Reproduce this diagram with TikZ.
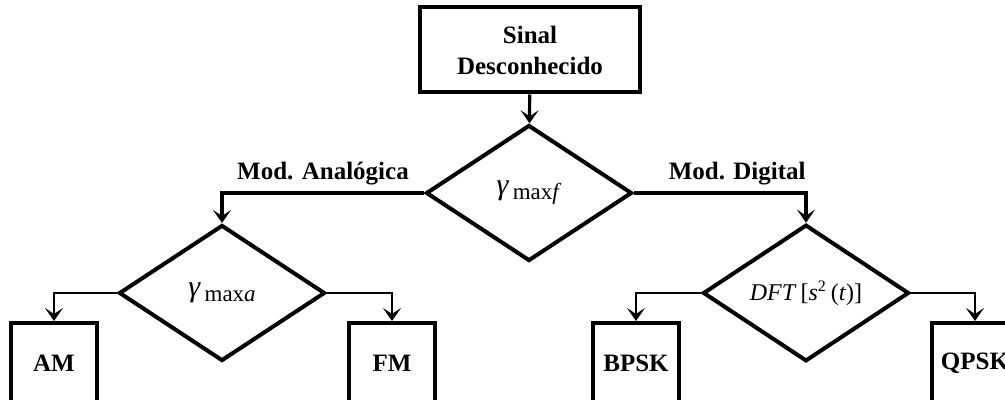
\documentclass[tikz,border=0pt]{standalone}
\usepackage{fontspec}
\setmainfont{Liberation Serif}
\usetikzlibrary{arrows.meta, positioning, shapes.geometric}

\begin{document}
\begin{tikzpicture}[
    x=0.5pt, y=-0.5pt,
    >={Stealth[length=6.5pt, width=9pt, inset=3pt]},
    block/.style={
        draw, line width=2pt, align=center, fill=white,
        font=\bfseries\fontsize{12.5}{15.5}\selectfont
    },
    leaf/.style={block, minimum width=43pt, minimum height=40pt},
    decision/.style={
        draw, diamond, line width=2pt, inner sep=0pt,
        minimum width=103pt, minimum height=68pt,
        font=\fontsize{12.5}{14}\selectfont
    },
    branch/.style={font=\bfseries\fontsize{12.5}{14}\selectfont, inner sep=2pt},
    flow/.style={->, line width=1.4pt},
]

\useasboundingbox (0,0) rectangle (1005,400);
\clip (0,0) rectangle (1005,400);

% ── Nodes ──
\node[block, minimum width=110pt, minimum height=42.5pt] (sinal) at (530,50)
    {Sinal\\Desconhecido};

\node[decision] (gmaxf) at (529,193)
    {{\fontsize{15}{15}\selectfont\textit{γ}}\raisebox{-2.5pt}{\fontsize{11.5}{11.5}\selectfont\,max\textit{f}}};

\node[decision] (gmaxa) at (222,293)
    {{\fontsize{15}{15}\selectfont\textit{γ}}\raisebox{-2.5pt}{\fontsize{11.5}{11.5}\selectfont\,max\textit{a}}};

\node[decision, font=\fontsize{12}{14}\selectfont] (dft) at (806,293)
    {\textit{DFT}\,[\textit{s}\textsuperscript{2}\,(\textit{t})]};

\node[leaf] (am)   at (54,363)  {AM};
\node[leaf] (fm)   at (392,363) {FM};
\node[leaf] (bpsk) at (636,363) {BPSK};
\node[leaf] (qpsk) at (975,363) {QPSK};

% ── Main flow ──
\draw[flow, line width=1.6pt] (sinal) -- (gmaxf);

% ── Analog / digital split ──
\draw[flow, line width=2pt] (gmaxf.west) -| (gmaxa.north)
    node[branch, pos=0.25, above=1pt] {Mod. Analógica};
\draw[flow, line width=2pt] (gmaxf.east) -| (dft.north)
    node[branch, pos=0.3, above=1pt] {Mod. Digital};

% ── Leaves ──
\draw[flow] (gmaxa.west) -| (am.north);
\draw[flow] (gmaxa.east) -| (fm.north);
\draw[flow] (dft.west)   -| (bpsk.north);
\draw[flow] (dft.east)   -| (qpsk.north);

\end{tikzpicture}
\end{document}
